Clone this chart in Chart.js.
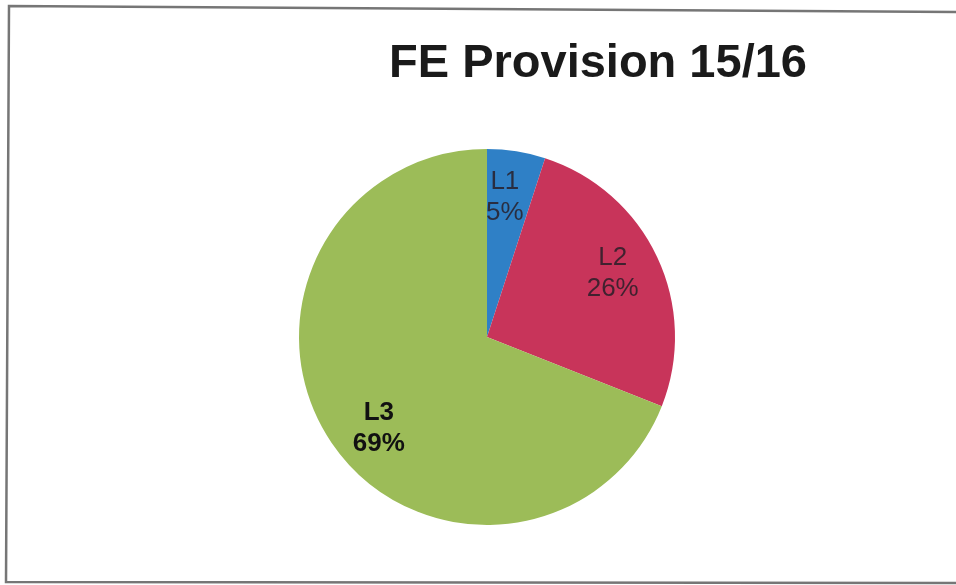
<!DOCTYPE html>
<html>
<head>
<meta charset="utf-8">
<script src="https://cdn.jsdelivr.net/npm/chart.js@4.4.0/dist/chart.umd.min.js"></script>
<style>
  html, body { margin: 0; padding: 0; background: #fff; }
  #wrap { position: relative; width: 956px; height: 585px; }
</style>
</head>
<body>
<div id="wrap"><canvas id="chart" width="956" height="585"></canvas></div>
<script>
const titleText = "FE Provision 15/16";
const categories = ["L1", "L2", "L3"];
const shares = [5, 26, 69];
const colors = ["#2f80c6", "#c8345a", "#9cbc58"];

// frame + title + in-slice labels
const decorations = {
  id: "decorations",
  beforeDraw(chart) {
    const ctx = chart.ctx;
    ctx.save();
    ctx.strokeStyle = "#767676";
    ctx.lineWidth = 2.5;
    ctx.beginPath();
    ctx.moveTo(960, 12);
    ctx.lineTo(9, 6);
    ctx.lineTo(6, 582);
    ctx.lineTo(960, 583);
    ctx.stroke();

    ctx.fillStyle = "#1a1a1a";
    ctx.font = "bold 47px 'Liberation Sans', Arial, sans-serif";
    ctx.textAlign = "center";
    ctx.textBaseline = "alphabetic";
    ctx.fillText(titleText, 598, 77);
    ctx.restore();
  },
  afterDatasetsDraw(chart) {
    const ctx = chart.ctx;
    const meta = chart.getDatasetMeta(0);
    const total = shares.reduce((a, b) => a + b, 0);
    ctx.save();
    ctx.textAlign = "center";
    ctx.textBaseline = "middle";
    meta.data.forEach((arc, i) => {
      const p = arc.getProps(["x", "y", "startAngle", "endAngle", "outerRadius"], true);
      const mid = (p.startAngle + p.endAngle) / 2 - (i === 2 ? 0.1 : 0.03);
      const r = p.outerRadius * 0.75;
      const x = p.x + Math.cos(mid) * r;
      const y = p.y + Math.sin(mid) * r;
      ctx.font = (i === 2 ? "bold " : "") + "26px 'Liberation Sans', Arial, sans-serif";
      ctx.fillStyle = i === 2 ? "#111" : "rgba(40,30,40,0.85)";
      ctx.fillText(categories[i], x, y - 15);
      ctx.fillText(Math.round(shares[i] / total * 100) + "%", x, y + 16);
    });
    ctx.restore();
  }
};

new Chart(document.getElementById("chart"), {
  type: "pie",
  data: {
    labels: categories,
    datasets: [
      {
        data: shares,
        backgroundColor: colors,
        borderWidth: 0,
      },
    ],
  },
  options: {
    responsive: false,
    animation: false,
    layout: {
      padding: { left: 299, right: 281, top: 149, bottom: 60 },
    },
    plugins: {
      legend: { display: false },
      title: { display: false },
      tooltip: { enabled: false },
    },
  },
  plugins: [decorations],
});
</script>
</body>
</html>
